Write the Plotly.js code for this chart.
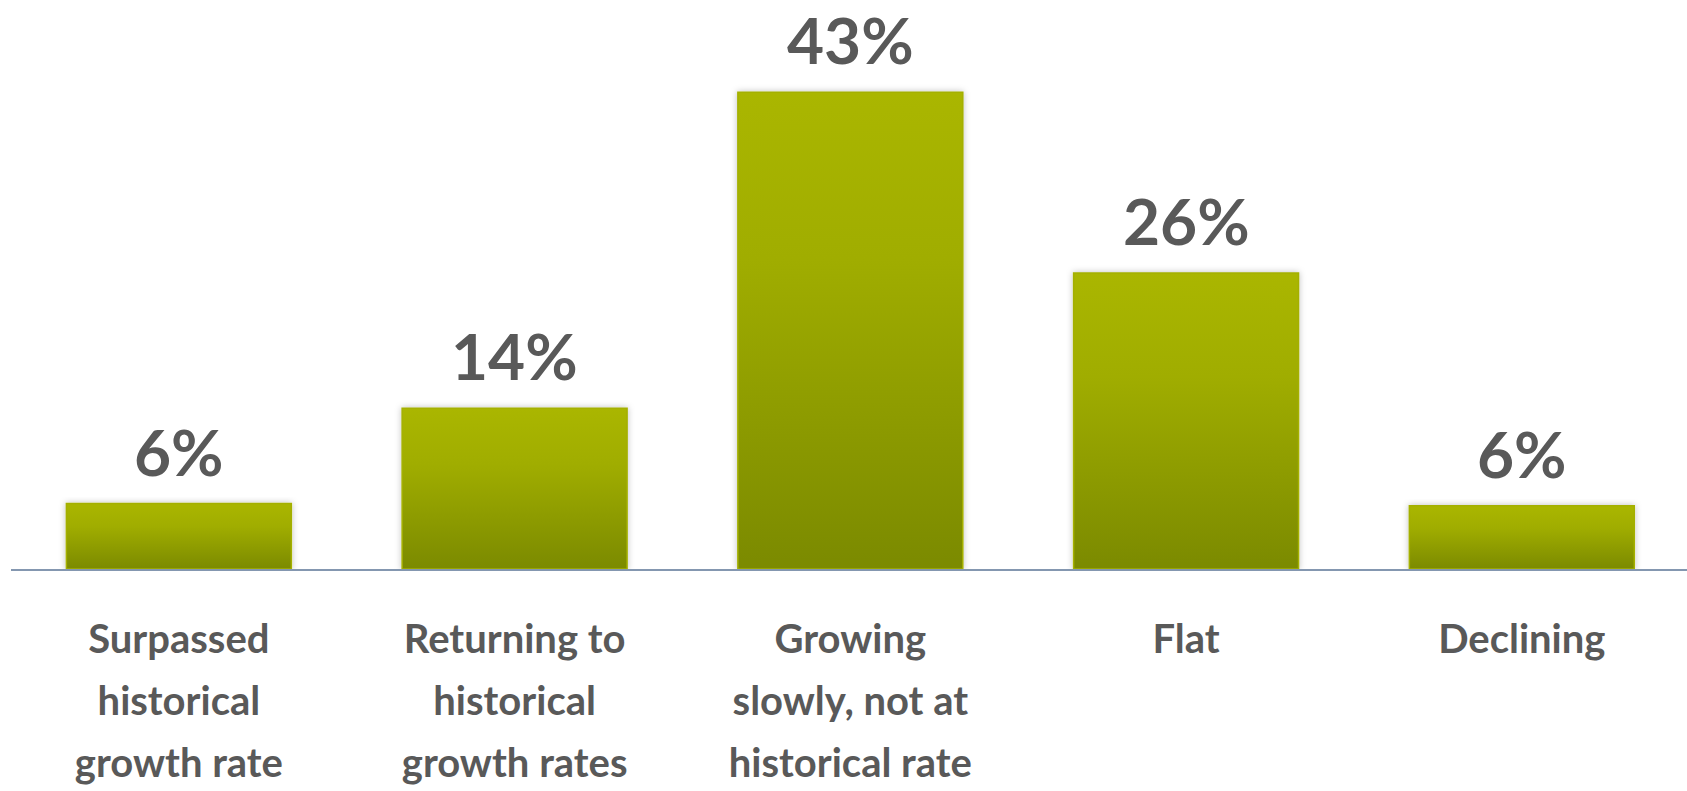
<!DOCTYPE html>
<html>
<head>
<meta charset="utf-8">
<script src="https://cdn.plot.ly/plotly-3.0.1.min.js"></script>
<style>
  html, body { margin: 0; padding: 0; background: #ffffff; }
  #chart { width: 1687px; height: 791px; }
</style>
</head>
<body>
<div id="chart"></div>
<script>
// ---- data ----
const categories = [
  "Surpassed<br>historical<br>growth rate",
  "Returning to<br>historical<br>growth rates",
  "Growing<br>slowly, not at<br>historical rate",
  "Flat",
  "Declining"
];
const values = [5.9, 14.5, 43.0, 26.7, 5.7];
const valueLabels = ["6%", "14%", "43%", "26%", "6%"];

// ---- style ----
const FONT = "Lato, 'Open Sans', sans-serif";
const TEXT_COLOR = "#595959";

const trace = {
  type: "bar",
  x: categories,
  y: values,
  marker: { color: "#94A200", line: { color: "#A4B000", width: 1.5 } },
  hoverinfo: "skip"
};

const annotations = categories.map((c, i) => ({
  x: c, y: values[i], xref: "x", yref: "y",
  text: valueLabels[i], showarrow: false,
  yanchor: "bottom", yshift: 12,
  font: { family: FONT, size: 64, color: TEXT_COLOR, weight: "bold" }
}));

const layout = {
  width: 1687, height: 791,
  margin: { l: 11, r: 0, t: 0, b: 222 },
  paper_bgcolor: "#ffffff", plot_bgcolor: "#ffffff",
  showlegend: false,
  bargap: 0.33,
  xaxis: {
    type: "category",
    range: [-0.5, 4.492],
    showline: true, linecolor: "#8497B0", linewidth: 2,
    showgrid: false, zeroline: false, ticks: "",
    ticklabelstandoff: 34,
    tickfont: { family: FONT, size: 40, color: TEXT_COLOR, weight: "bold" }
  },
  yaxis: {
    range: [0, 51.33],
    visible: false, showgrid: false, zeroline: false
  },
  annotations: annotations
};

Plotly.newPlot("chart", [trace], layout, { staticPlot: true, displayModeBar: false }).then(gd => {
  const svg = gd.querySelector("svg.main-svg");
  const NS = "http://www.w3.org/2000/svg";
  let defs = svg.querySelector("defs");
  if (!defs) { defs = document.createElementNS(NS, "defs"); svg.insertBefore(defs, svg.firstChild); }
  const grad = document.createElementNS(NS, "linearGradient");
  grad.setAttribute("id", "barGrad");
  grad.setAttribute("x1", "0"); grad.setAttribute("y1", "0");
  grad.setAttribute("x2", "0"); grad.setAttribute("y2", "1");
  [["0%", "#AAB600"], ["35%", "#A0AD00"], ["100%", "#7B8A00"]].forEach(([o, c]) => {
    const s = document.createElementNS(NS, "stop");
    s.setAttribute("offset", o); s.setAttribute("stop-color", c);
    grad.appendChild(s);
  });
  defs.appendChild(grad);
  const filt = document.createElementNS(NS, "filter");
  filt.setAttribute("id", "barShadow");
  filt.setAttribute("x", "-10%"); filt.setAttribute("y", "-10%");
  filt.setAttribute("width", "120%"); filt.setAttribute("height", "120%");
  const ds = document.createElementNS(NS, "feDropShadow");
  ds.setAttribute("dx", "0"); ds.setAttribute("dy", "0");
  ds.setAttribute("stdDeviation", "3"); ds.setAttribute("flood-color", "#000");
  ds.setAttribute("flood-opacity", "0.25");
  filt.appendChild(ds);
  defs.appendChild(filt);
  gd.querySelectorAll(".barlayer .point path").forEach(p => {
    p.style.fill = "url(#barGrad)";
    p.setAttribute("filter", "url(#barShadow)");
  });
  // widen multi-line tick label spacing
  gd.querySelectorAll(".xtick text tspan.line").forEach(t => {
    const dy = t.getAttribute("dy");
    if (dy && dy.endsWith("em")) {
      const v = parseFloat(dy);
      t.setAttribute("dy", (v * 1.55 / 1.3) + "em");
    }
  });
});
</script>
</body>
</html>
